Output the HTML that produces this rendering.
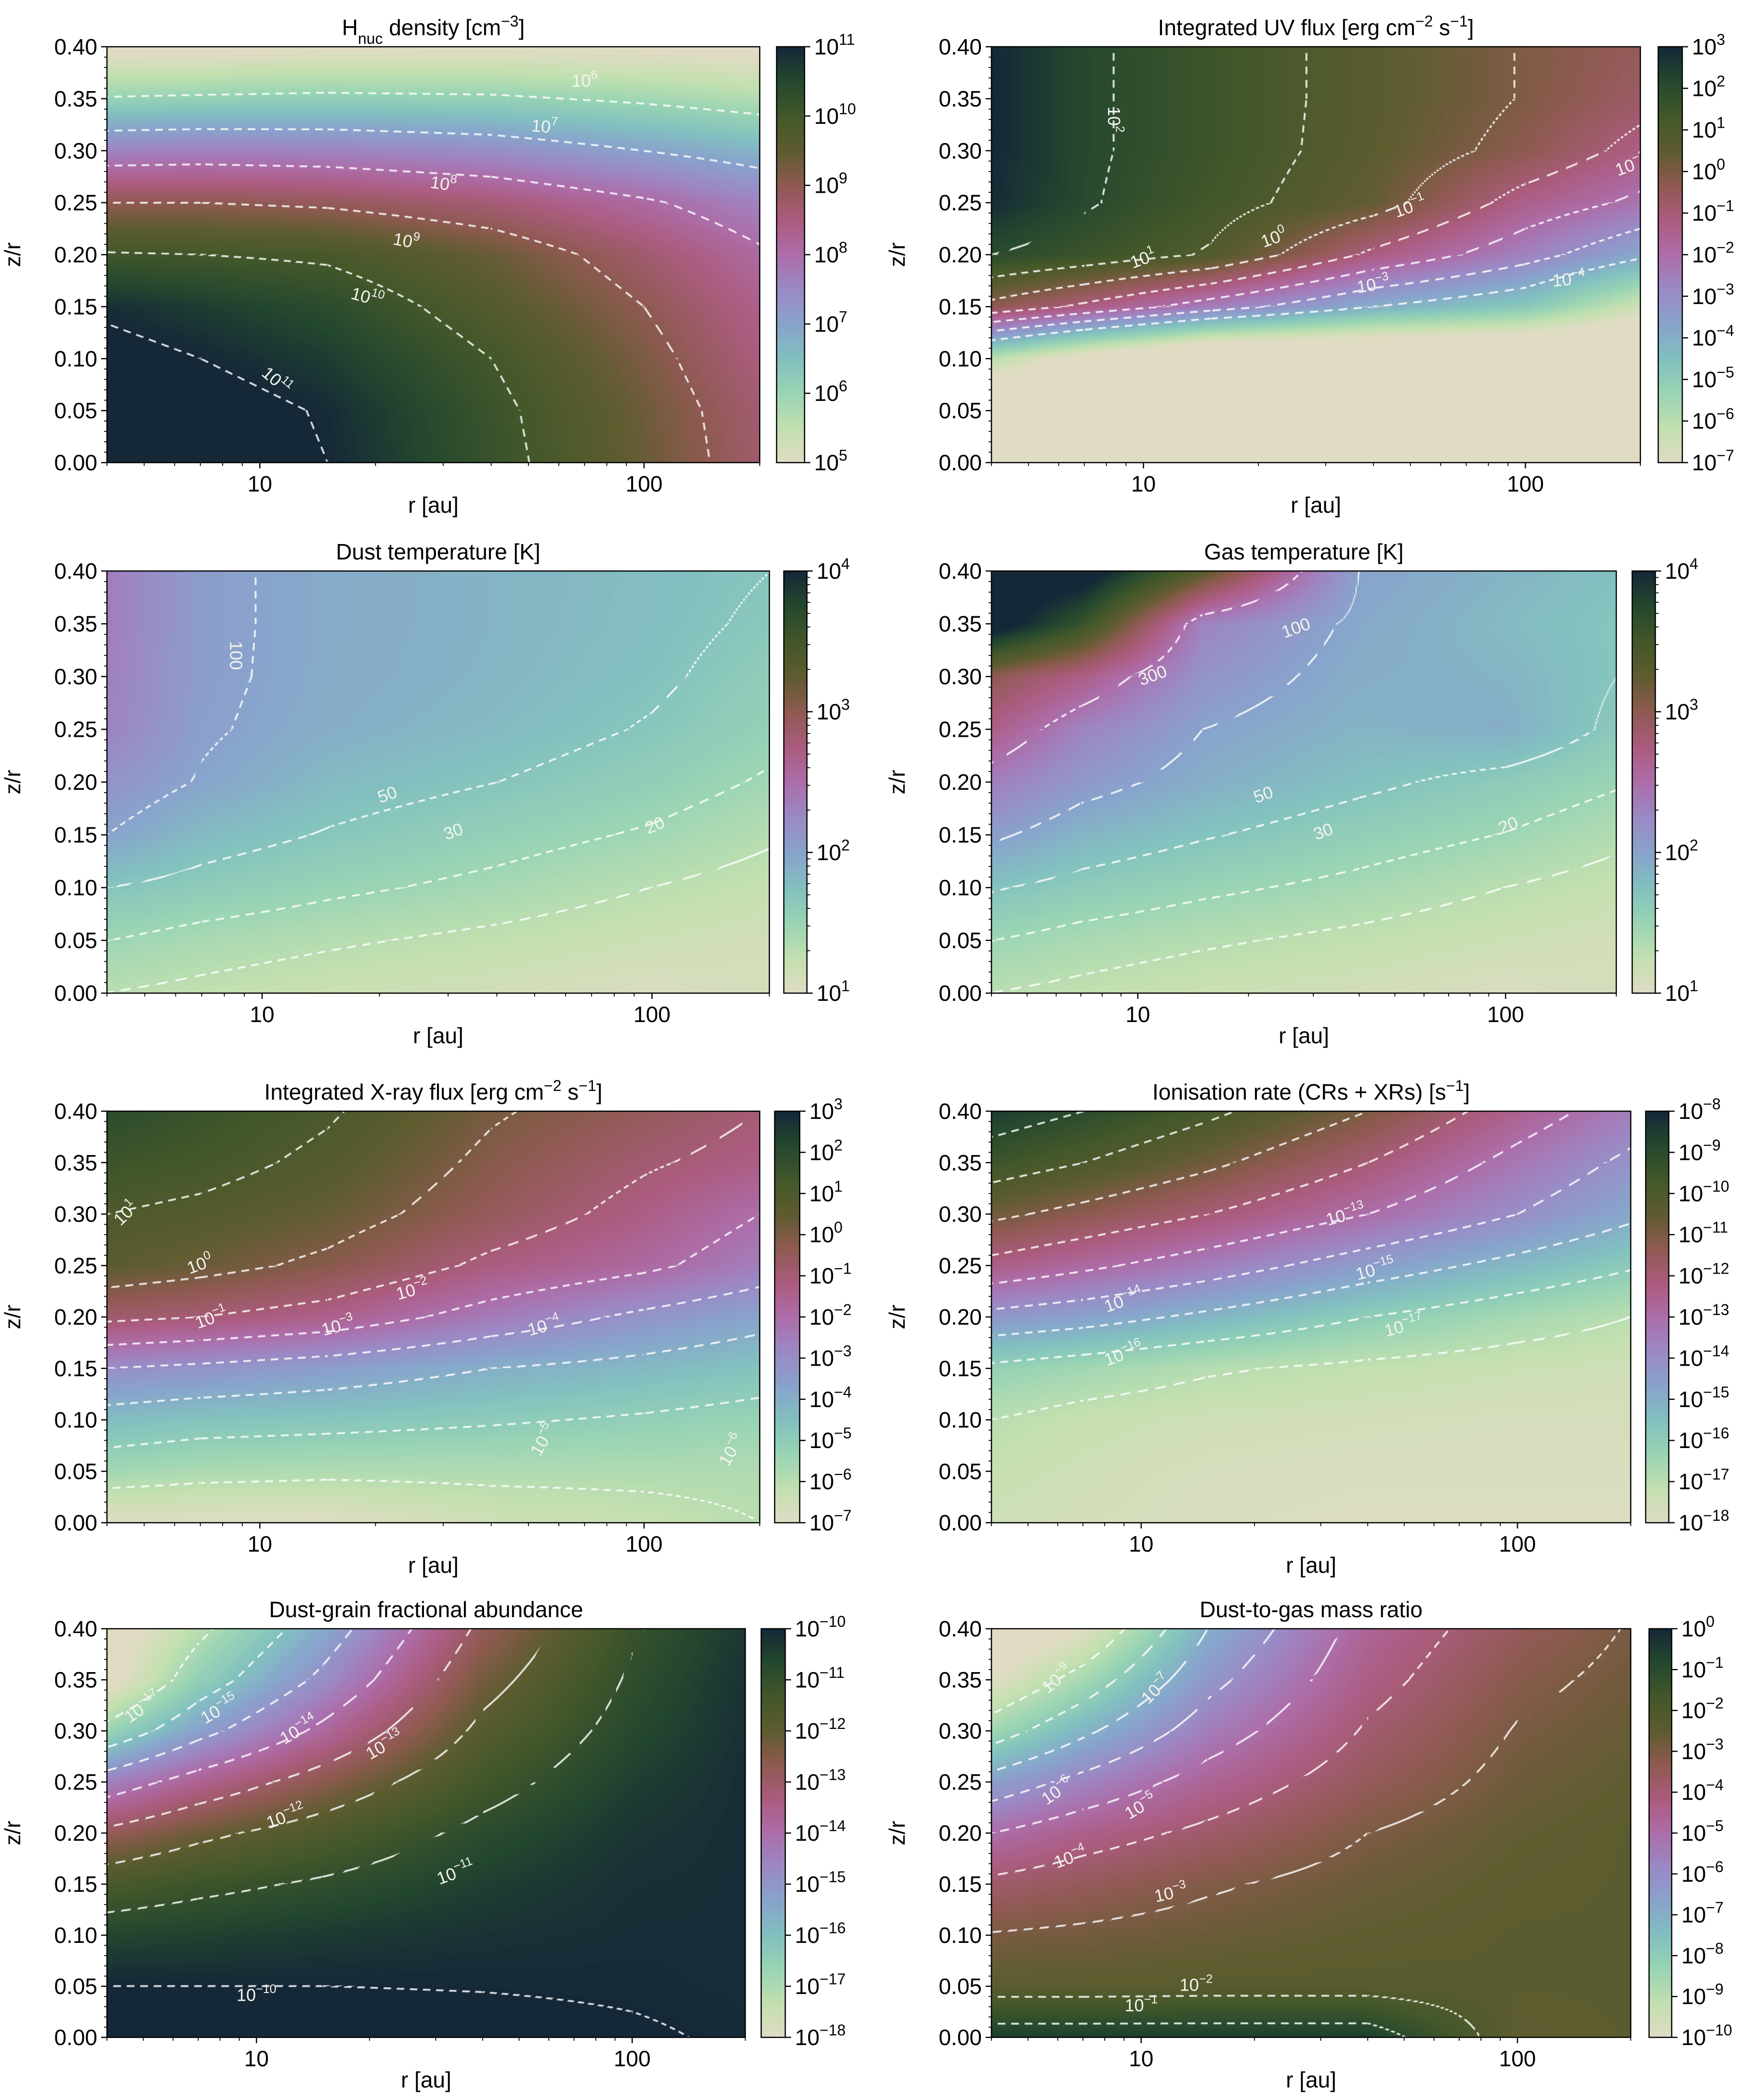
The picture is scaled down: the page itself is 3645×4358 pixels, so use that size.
<!DOCTYPE html>
<html><head><meta charset="utf-8">
<style>
html,body{margin:0;padding:0;background:#fff;}
#root{position:relative;width:3645px;height:4358px;overflow:hidden;background:#fff;font-family:"Liberation Sans","DejaVu Sans",sans-serif;}
canvas{position:absolute;}
svg{position:absolute;left:0;top:0;}
</style></head>
<body>
<div id="root">
<svg id="ov" width="3645" height="4358"></svg>
</div>
<script>
// ---------- data ----------
const zRows = [0,0.05,0.10,0.15,0.20,0.25,0.30,0.35,0.40];
const rCols = [4,7,15,40,100,200];
const xTicksMajor = [10,100];
const xTicksMinor = [4,5,6,7,8,9,20,30,40,50,60,70,80,90,200];
const yTicks = [0,0.05,0.10,0.15,0.20,0.25,0.30,0.35,0.40];
const yTickLabels = ["0.00","0.05","0.10","0.15","0.20","0.25","0.30","0.35","0.40"];

// log10 values, rows z=0..0.4, cols r=4,7,15,40,100,200
const gridHnuc = [
 [11.6,11.3,11.0,10.2,9.4,8.7],[11.5,11.25,10.95,10.15,9.35,8.65],[11.2,11.0,10.7,10.0,9.2,8.5],
 [10.9,10.7,10.4,9.7,9.0,8.35],[10.05,10.0,9.9,9.4,8.7,8.1],[9.0,9.0,8.9,8.6,8.1,7.6],
 [7.6,7.65,7.6,7.4,7.0,6.7],[6.05,6.1,6.15,6.1,5.9,5.7],[4.8,4.8,4.9,4.9,4.9,4.8]];
const gridUV = [
 [-9,-9,-9,-9,-9,-9],[-9,-9,-9,-9,-9,-9],[-6,-7.5,-9,-9,-9,-9],
 [-0.3,-1.2,-2.5,-4.0,-4.8,-6.5],[2.0,1.6,0.9,-1.2,-2.6,-3.8],[2.9,2.1,1.35,0.4,-1.4,-2.2],
 [3.0,2.15,1.5,0.6,-0.3,-1.3],[3.0,2.15,1.5,0.65,-0.05,-0.7],[3.0,2.15,1.5,0.65,-0.05,-0.5]];
const gridTdust = [
 [1.3,1.25,1.18,1.12,1.05,1.1],[1.48,1.4,1.33,1.25,1.17,1.12],[1.7,1.62,1.52,1.42,1.3,1.22],
 [2.0,1.8,1.68,1.56,1.45,1.33],[2.15,1.98,1.8,1.7,1.58,1.45],[2.3,2.03,1.9,1.8,1.68,1.55],
 [2.33,2.05,1.92,1.84,1.74,1.6],[2.35,2.05,1.93,1.85,1.77,1.66],[2.35,2.05,1.93,1.85,1.78,1.7]];
const gridTgas = [
 [1.3,1.25,1.18,1.12,1.05,1.1],[1.48,1.4,1.33,1.25,1.17,1.12],[1.72,1.62,1.52,1.42,1.3,1.22],
 [2.05,1.85,1.72,1.58,1.47,1.35],[2.35,2.1,1.9,1.75,1.62,1.5],[2.7,2.3,2.0,1.85,1.9,1.65],
 [3.0,2.7,2.15,1.9,1.85,1.7],[4.2,3.6,2.3,1.95,1.8,1.7],[4.2,4.2,3.3,2.0,1.85,1.75]];
const gridXray = [
 [-7,-7,-7,-6.5,-6.3,-6.0],[-5.5,-5.7,-5.8,-5.8,-5.8,-5.8],[-4.4,-4.6,-4.7,-4.9,-5.1,-5.3],
 [-3.0,-3.2,-3.5,-4.0,-4.3,-4.6],[-0.8,-1.0,-1.4,-2.4,-3.2,-3.7],[0.6,0.3,-0.2,-1.2,-1.8,-2.5],
 [1.0,0.8,0.4,-0.5,-1.3,-2.0],[1.5,1.3,0.8,-0.2,-0.9,-1.3],[2.0,1.6,1.1,0.1,-0.5,-1.0]];
const gridIon = [
 [-17.5,-17.6,-17.8,-17.9,-17.9,-17.9],[-17.3,-17.5,-17.7,-17.8,-17.8,-17.8],[-17.0,-17.3,-17.5,-17.6,-17.7,-17.7],
 [-16.2,-16.5,-16.9,-17.2,-17.4,-17.5],[-14.3,-14.6,-15.2,-16.0,-16.6,-17.0],[-12.3,-12.8,-13.5,-14.5,-15.3,-15.9],
 [-10.8,-11.3,-12.0,-13.0,-14.0,-14.8],[-9.5,-10.0,-10.8,-12.0,-13.3,-14.2],[-8.5,-9.0,-9.8,-11.0,-12.5,-13.5]];
const gridGrain = [
 [-9.8,-9.8,-9.8,-9.85,-9.95,-10.05],[-10.0,-10.0,-10.0,-10.02,-10.05,-10.1],[-10.6,-10.5,-10.35,-10.2,-10.1,-10.1],
 [-11.5,-11.2,-10.9,-10.45,-10.15,-10.1],[-12.8,-12.2,-11.6,-10.8,-10.25,-10.1],[-14.5,-13.6,-12.6,-11.3,-10.45,-10.1],
 [-16.7,-15.3,-13.8,-11.8,-10.7,-10.15],[-18.3,-16.5,-14.8,-12.3,-10.9,-10.2],[-18.5,-17.2,-15.5,-12.8,-11.1,-10.3]];
const gridD2G = [
 [-0.5,-0.5,-0.5,-0.5,-2.5,-2.4],[-2.4,-2.4,-2.35,-2.35,-2.4,-2.4],[-2.95,-2.85,-2.7,-2.5,-2.4,-2.4],
 [-3.8,-3.5,-3.1,-2.7,-2.45,-2.4],[-5.0,-4.4,-3.8,-3.0,-2.55,-2.4],[-6.6,-5.7,-4.6,-3.5,-2.75,-2.5],
 [-8.5,-7.2,-5.5,-3.9,-2.95,-2.65],[-10.0,-8.6,-6.3,-4.3,-3.2,-2.8],[-11.0,-10.0,-7.0,-4.6,-3.5,-2.95]];

const levelsHnuc = [6,7,8,9,10,11];
const levelsUV = [2,1,0,-1,-2,-3,-4];
const levelsTdust = [1.301,1.477,1.699,2];
const levelsTgas = [1.301,1.477,1.699,2,2.477];
const levelsXray = [1,0,-1,-2,-3,-4,-5,-6];
const levelsIon = [-9,-10,-11,-12,-13,-14,-15,-16,-17];
const levelsGrain = [-10,-11,-12,-13,-14,-15,-16,-17];
const levelsD2G = [-1,-2,-3,-4,-5,-6,-7,-8,-9];

// contour labels: [r, z, base, exponent, rotation]
const labelsHnuc = [[70,0.366,"10","6",0],[55,0.322,"10","7",5],[30,0.267,"10","8",8],[24,0.212,"10","9",10],[19,0.158,"10","10",15],[11,0.078,"10","11",40]];
const labelsUV = [[8.3,0.33,"10","2",90],[10,0.195,"10","1",-20],[22,0.215,"10","0",-20],[50,0.245,"10","−1",-20],[190,0.285,"10","−2",-20],[40,0.17,"10","−3",-10],[130,0.175,"10","−4",-5]];
const labelsTdust = [[8.5,0.32,"100","",90],[21,0.187,"50","",-20],[31,0.152,"30","",-20],[102,0.158,"20","",-22]];
const labelsTgas = [[11,0.3,"300","",-20],[27,0.345,"100","",-20],[22,0.187,"50","",-20],[32,0.152,"30","",-20],[102,0.158,"20","",-22]];
const labelsXray = [[4.5,0.3,"10","1",-45],[7,0.25,"10","0",-20],[7.5,0.198,"10","−1",-20],[25,0.225,"10","−2",-15],[16,0.19,"10","−3",-15],[55,0.19,"10","−4",-15],[55,0.08,"10","−5",-60],[170,0.07,"10","−6",-60]];
const labelsIon = [[35,0.298,"10","−13",-15],[42,0.245,"10","−15",-15],[9,0.215,"10","−14",-20],[9,0.163,"10","−16",-20],[50,0.19,"10","−17",-15]];
const labelsGrain = [[10,0.04,"10","−10",0],[34,0.16,"10","−11",-20],[12,0.215,"10","−12",-20],[22,0.285,"10","−13",-30],[13,0.3,"10","−14",-30],[8,0.32,"10","−15",-30],[5,0.322,"10","−17",-35]];
const labelsD2G = [[10,0.03,"10","−1",0],[14,0.05,"10","−2",0],[12,0.14,"10","−3",-12],[6.5,0.175,"10","−4",-20],[10,0.225,"10","−5",-30],[6,0.24,"10","−6",-35],[11,0.34,"10","−7",-45],[6,0.35,"10","−9",-40]];

// ---------- layout ----------
const panels = [
 {name:"hnuc-density",title:'H<tspan baseline-shift="sub" font-size="32">nuc</tspan> density [cm<tspan baseline-shift="super" font-size="32">−3</tspan>]',grid:gridHnuc,levels:levelsHnuc,labels:labelsHnuc,vmin:5,vmax:11,x0:222,x1:1577,y0:97,y1:960,cb0:1612,cb1:1670,cbTicks:[5,6,7,8,9,10,11]},
 {name:"uv-flux",title:'Integrated UV flux [erg cm<tspan baseline-shift="super" font-size="32">−2</tspan> s<tspan baseline-shift="super" font-size="32">−1</tspan>]',grid:gridUV,levels:levelsUV,labels:labelsUV,vmin:-7,vmax:3,x0:2058,x1:3405,y0:97,y1:960,cb0:3442,cb1:3492,cbTicks:[-7,-6,-5,-4,-3,-2,-1,0,1,2,3]},
 {name:"dust-temperature",title:'Dust temperature [K]',grid:gridTdust,levels:levelsTdust,labels:labelsTdust,vmin:1,vmax:4,x0:222,x1:1597,y0:1185,y1:2061,cb0:1627,cb1:1675,cbTicks:[1,2,3,4]},
 {name:"gas-temperature",title:'Gas temperature [K]',grid:gridTgas,levels:levelsTgas,labels:labelsTgas,vmin:1,vmax:4,x0:2058,x1:3355,y0:1185,y1:2061,cb0:3388,cb1:3436,cbTicks:[1,2,3,4]},
 {name:"xray-flux",title:'Integrated X-ray flux [erg cm<tspan baseline-shift="super" font-size="32">−2</tspan> s<tspan baseline-shift="super" font-size="32">−1</tspan>]',grid:gridXray,levels:levelsXray,labels:labelsXray,vmin:-7,vmax:3,x0:222,x1:1577,y0:2306,y1:3160,cb0:1608,cb1:1660,cbTicks:[-7,-6,-5,-4,-3,-2,-1,0,1,2,3]},
 {name:"ionisation-rate",title:'Ionisation rate (CRs + XRs) [s<tspan baseline-shift="super" font-size="32">−1</tspan>]',grid:gridIon,levels:levelsIon,labels:labelsIon,vmin:-18,vmax:-8,x0:2058,x1:3385,y0:2306,y1:3160,cb0:3416,cb1:3464,cbTicks:[-18,-17,-16,-15,-14,-13,-12,-11,-10,-9,-8]},
 {name:"dust-grain-abundance",title:'Dust-grain fractional abundance',grid:gridGrain,levels:levelsGrain,labels:labelsGrain,vmin:-18,vmax:-10,x0:222,x1:1547,y0:3380,y1:4228,cb0:1580,cb1:1630,cbTicks:[-18,-17,-16,-15,-14,-13,-12,-11,-10]},
 {name:"dust-to-gas-ratio",title:'Dust-to-gas mass ratio',grid:gridD2G,levels:levelsD2G,labels:labelsD2G,vmin:-10,vmax:0,x0:2058,x1:3385,y0:3380,y1:4228,cb0:3423,cb1:3470,cbTicks:[-10,-9,-8,-7,-6,-5,-4,-3,-2,-1,0]}
];

// colormap
const cmStops = [[0,"#e0dcc4"],[0.08,"#c4e0b0"],[0.17,"#98d4b4"],[0.25,"#82c0c0"],[0.33,"#88a4cc"],[0.42,"#9c88c4"],[0.5,"#ac6eaa"],[0.58,"#ac5c80"],[0.67,"#8e5a50"],[0.75,"#5e5c30"],[0.83,"#44582a"],[0.92,"#24482e"],[1,"#152838"]];
function hex(h){return [parseInt(h.slice(1,3),16),parseInt(h.slice(3,5),16),parseInt(h.slice(5,7),16)];}
const LUT=[];
for(let i=0;i<256;i++){const t=i/255;let k=0;while(k<cmStops.length-2&&t>cmStops[k+1][0])k++;
 const a=cmStops[k],b=cmStops[k+1];const f=(t-a[0])/(b[0]-a[0]);const ca=hex(a[1]),cb=hex(b[1]);
 LUT.push([ca[0]+(cb[0]-ca[0])*f,ca[1]+(cb[1]-ca[1])*f,ca[2]+(cb[2]-ca[2])*f]);}
function cmap(t){t=Math.max(0,Math.min(1,t));return LUT[Math.round(t*255)];}

const LR0=Math.log10(4),LR1=Math.log10(200);
const lrCols=rCols.map(r=>Math.log10(r));
function field(g,lr,z){
 let zi=z/0.05;let i0=Math.min(Math.max(Math.floor(zi),0),7);let fz=zi-i0;
 let j0=0;while(j0<4&&lr>lrCols[j0+1])j0++;
 let fr=(lr-lrCols[j0])/(lrCols[j0+1]-lrCols[j0]);fr=Math.max(0,Math.min(1,fr));
 const a=g[i0][j0]*(1-fr)+g[i0][j0+1]*fr, b=g[i0+1][j0]*(1-fr)+g[i0+1][j0+1]*fr;
 return a*(1-fz)+b*fz;
}

const NS="http://www.w3.org/2000/svg";
const ov=document.getElementById('ov');
const root=document.getElementById('root');
function sv(tag,attrs,parent){const e=document.createElementNS(NS,tag);for(const k in attrs)e.setAttribute(k,attrs[k]);(parent||ov).appendChild(e);return e;}

panels.forEach(p=>{
 const W=p.x1-p.x0,H=p.y1-p.y0;
 const xs=r=>p.x0+(Math.log10(r)-LR0)/(LR1-LR0)*W;
 const ys=z=>p.y1-z/0.4*H;
 const cv=document.createElement('canvas');
 
 
 cv.width=W;cv.height=H;cv.style.left=p.x0+'px';cv.style.top=p.y0+'px';
 root.insertBefore(cv,ov);
 const ctx=cv.getContext('2d');const img=ctx.createImageData(W,H);const d=img.data;
 const F=new Float32Array(W*H);
 for(let y=0;y<H;y++){const z=(H-1-y)/(H-1)*0.4;for(let x=0;x<W;x++){const lr=LR0+x/(W-1)*(LR1-LR0);F[y*W+x]=field(p.grid,lr,z);}}
 const span=p.vmax-p.vmin;
 for(let y=0;y<H;y++)for(let x=0;x<W;x++){
  const i=y*W+x,v=F[i];let c=cmap((v-p.vmin)/span);let R=c[0],G=c[1],B=c[2];
  if(x>0&&x<W-1&&y>0&&y<H-1){
   const gx=(F[i+1]-F[i-1])/2,gy=(F[i+W]-F[i-W])/2;const gm=Math.hypot(gx,gy);
   if(gm>1e-5&&v>p.vmin-0.5){
    for(const L of p.levels){const dd=Math.abs(v-L)/gm;
     if(dd<2.4){const s=x*(-gy/gm)+y*(gx/gm);const m=((s%28)+28)%28;
      if(m<16){const a=0.85*Math.min(1,2.4-dd);R=R+(255-R)*a;G=G+(255-G)*a;B=B+(255-B)*a;}}}
   }
  }
  d[i*4]=R;d[i*4+1]=G;d[i*4+2]=B;d[i*4+3]=255;
 }
 ctx.putImageData(img,0,0);
 const cbw=p.cb1-p.cb0;const cc=document.createElement('canvas');
 
 
 cc.width=cbw;cc.height=H;cc.style.left=p.cb0+'px';cc.style.top=p.y0+'px';root.insertBefore(cc,ov);
 const c2=cc.getContext('2d');for(let y=0;y<H;y++){const c=cmap(1-y/(H-1));c2.fillStyle=`rgb(${c[0]|0},${c[1]|0},${c[2]|0})`;c2.fillRect(0,y,cbw,1);}

 const g=sv('g',{});
 
 
 p.labels.forEach(l=>{const t=sv('text',{x:xs(l[0]),y:ys(l[1]),fill:'#f4f4ee','font-size':36,'text-anchor':'middle','dominant-baseline':'middle',transform:`rotate(${l[4]} ${xs(l[0])} ${ys(l[1])})`},g);
  
  
  t.innerHTML=l[2]+(l[3]?`<tspan baseline-shift="super" font-size="25">${l[3]}</tspan>`:'');});
 const fr=sv('rect',{x:p.x0,y:p.y0,width:W,height:H,fill:'none',stroke:'#000','stroke-width':2.5},g);
 
 
 const cfr=sv('rect',{x:p.cb0,y:p.y0,width:cbw,height:H,fill:'none',stroke:'#000','stroke-width':2.5},g);
 
 
 const tt=sv('text',{x:(p.x0+p.x1)/2,y:p.y0-24,'font-size':46,'text-anchor':'middle',fill:'#000'},g);
 
 
 tt.innerHTML=p.title;
 yTicks.forEach((z,k)=>{const y=ys(z);sv('line',{x1:p.x0-12,x2:p.x0,y1:y,y2:y,stroke:'#000','stroke-width':2.5},g);
  const t=sv('text',{x:p.x0-20,y:y+16,'font-size':46,'text-anchor':'end'},g);
  
  
  t.textContent=yTickLabels[k];});
 for(let k=0;k<=40;k++){if(k%5===0)continue;const y=ys(k*0.01);sv('line',{x1:p.x0-6,x2:p.x0,y1:y,y2:y,stroke:'#000','stroke-width':1.8},g);}
 xTicksMajor.forEach(r=>{const x=xs(r);sv('line',{x1:x,x2:x,y1:p.y1,y2:p.y1+12,stroke:'#000','stroke-width':2.5},g);
  const t=sv('text',{x:x,y:p.y1+60,'font-size':46,'text-anchor':'middle'},g);
  
  
  t.textContent=String(r);});
 xTicksMinor.forEach(r=>{const x=xs(r);sv('line',{x1:x,x2:x,y1:p.y1,y2:p.y1+7,stroke:'#000','stroke-width':1.8},g);});
 const xl=sv('text',{x:(p.x0+p.x1)/2,y:p.y1+104,'font-size':46,'text-anchor':'middle'},g);
 
 
 xl.textContent='r [au]';
 const yx=p.x0-180,yy=(p.y0+p.y1)/2;
 const yl=sv('text',{x:yx,y:yy,'font-size':46,'text-anchor':'middle',transform:`rotate(-90 ${yx} ${yy})`},g);
 
 
 yl.textContent='z/r';
 p.cbTicks.forEach(v=>{const y=p.y1-(v-p.vmin)/span*H;sv('line',{x1:p.cb1,x2:p.cb1+12,y1:y,y2:y,stroke:'#000','stroke-width':2.5},g);
  const t=sv('text',{x:p.cb1+20,y:y+16,'font-size':46},g);
  
  
  const e=String(v).replace('-','−');
  t.innerHTML=`10<tspan dy="-20" font-size="32">${e}</tspan>`;});
 if(span<=3){for(let dcd=p.vmin;dcd<p.vmax;dcd++)for(let m=2;m<10;m++){const y=p.y1-(dcd+Math.log10(m)-p.vmin)/span*H;sv('line',{x1:p.cb1,x2:p.cb1+7,y1:y,y2:y,stroke:'#000','stroke-width':1.8},g);}}
});
</script>
</body></html>
